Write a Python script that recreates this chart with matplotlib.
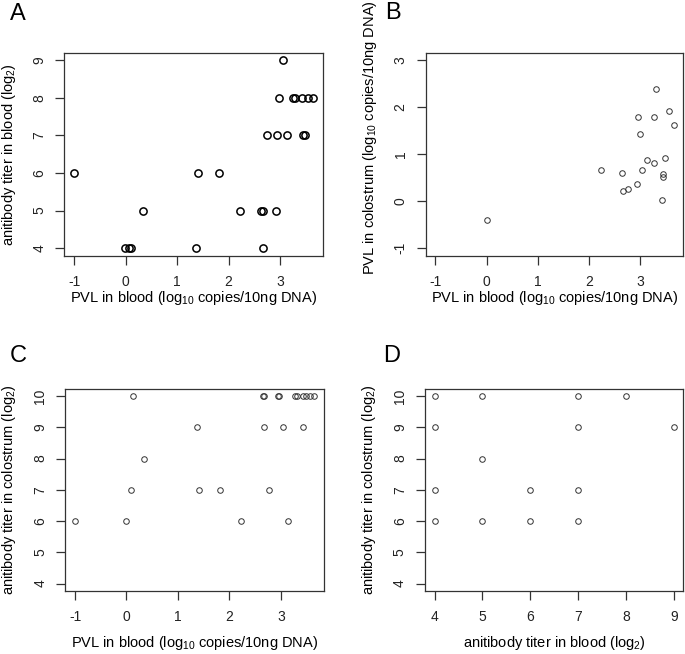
import matplotlib
matplotlib.use('Agg')
import matplotlib.pyplot as plt

plt.rcParams['font.family'] = ['Liberation Sans', 'DejaVu Sans']
plt.rcParams['mathtext.default'] = 'regular'

# panel A: PVL in blood vs antibody titer in blood
pvl_blood_a = [3.05,
               2.98, 3.26, 3.30, 3.43, 3.55, 3.64,
               2.75, 2.94, 3.14, 3.44, 3.48,
               -1.0, 1.40, 1.82,
               0.34, 2.23, 2.63, 2.66, 2.93,
               -0.01, 0.06, 0.10, 1.37, 2.66]
titer_blood_a = [9,
                 8, 8, 8, 8, 8, 8,
                 7, 7, 7, 7, 7,
                 6, 6, 6,
                 5, 5, 5, 5, 5,
                 4, 4, 4, 4, 4]

# panel B: PVL in blood vs PVL in colostrum
pvl_blood_b = [0.0, 2.23, 2.64, 2.66, 2.76, 2.93, 2.95, 2.99, 3.04, 3.14,
               3.27, 3.27, 3.31, 3.42, 3.44, 3.44, 3.48, 3.57, 3.65]
pvl_colostrum_b = [-0.41, 0.67, 0.61, 0.21, 0.26, 0.36, 1.79, 1.42, 0.67, 0.88,
                   0.82, 1.79, 2.39, 0.03, 0.57, 0.51, 0.92, 1.91, 1.62]

# panel C: PVL in blood vs antibody titer in colostrum
pvl_blood_c = [0.12, 2.65, 2.67, 2.94, 2.97, 3.28, 3.31, 3.44, 3.49, 3.57, 3.65,
               1.38, 2.68, 3.05, 3.44,
               0.35,
               0.08, 1.41, 1.82, 2.77,
               -1.0, 0.0, 2.23, 3.14]
titer_colostrum_c = [10, 10, 10, 10, 10, 10, 10, 10, 10, 10, 10,
                     9, 9, 9, 9,
                     8,
                     7, 7, 7, 7,
                     6, 6, 6, 6]

# panel D: antibody titer in blood vs antibody titer in colostrum
titer_blood_d = [4, 4, 4, 4, 5, 5, 5, 6, 6, 7, 7, 7, 7, 8, 9]
titer_colostrum_d = [10, 9, 7, 6, 10, 8, 6, 7, 6, 10, 9, 7, 6, 10, 9]

pvl_ticks = [-1, 0, 1, 2, 3]
pvl_col_ticks = [-1, 0, 1, 2, 3]
titer_blood_ticks = [4, 5, 6, 7, 8, 9]
titer_col_ticks = [4, 5, 6, 7, 8, 9, 10]

pvl_label = 'PVL in blood (log$_{10}$ copies/10ng DNA)'

fig = plt.figure(figsize=(6.85, 6.54), dpi=100)

axA = fig.add_axes([0.0939, 0.609, 0.378, 0.3104])
axB = fig.add_axes([0.6215, 0.609, 0.376, 0.3104])
axC = fig.add_axes([0.0953, 0.0963, 0.3777, 0.3094])
axD = fig.add_axes([0.6204, 0.0963, 0.3771, 0.3094])

axA.plot(pvl_blood_a, titer_blood_a, 'o', markerfacecolor='none', markeredgecolor='black',
         markersize=5.2, markeredgewidth=1.1)
axB.plot(pvl_blood_b, pvl_colostrum_b, 'o', markerfacecolor='none', markeredgecolor='#333333',
         markersize=4, markeredgewidth=0.7)
axC.plot(pvl_blood_c, titer_colostrum_c, 'o', markerfacecolor='none', markeredgecolor='#333333',
         markersize=4, markeredgewidth=0.7)
axD.plot(titer_blood_d, titer_colostrum_d, 'o', markerfacecolor='none', markeredgecolor='#333333',
         markersize=4, markeredgewidth=0.7)


def tick_text(ticks):
    # plain hyphen for negatives, like R does
    return [str(t) for t in ticks]


axA.set_xlim(-1.19, 3.84)
axA.set_ylim(3.8, 9.2)
axA.set_xticks(pvl_ticks, labels=tick_text(pvl_ticks))
axA.set_yticks(titer_blood_ticks, labels=tick_text(titer_blood_ticks), rotation=90, va='center')

axB.set_xlim(-1.19, 3.84)
axB.set_ylim(-1.16, 3.16)
axB.set_xticks(pvl_ticks, labels=tick_text(pvl_ticks))
axB.set_yticks(pvl_col_ticks, labels=tick_text(pvl_col_ticks), rotation=90, va='center')

axC.set_xlim(-1.19, 3.84)
axC.set_ylim(3.76, 10.24)
axC.set_xticks(pvl_ticks, labels=tick_text(pvl_ticks))
axC.set_yticks(titer_col_ticks, labels=tick_text(titer_col_ticks), rotation=90, va='center')

axD.set_xlim(3.8, 9.2)
axD.set_ylim(3.76, 10.24)
axD.set_xticks(titer_blood_ticks, labels=tick_text(titer_blood_ticks))
axD.set_yticks(titer_col_ticks, labels=tick_text(titer_col_ticks), rotation=90, va='center')

axA.set_xlabel(pvl_label, fontsize=10.5, va='center')
axA.set_ylabel('anitibody titer in blood (log$_2$)', fontsize=10.5, va='center')
axB.set_xlabel(pvl_label, fontsize=10.5, va='center')
axB.set_ylabel('PVL in colostrum (log$_{10}$ copies/10ng DNA)', fontsize=10.5, va='center')
axC.set_xlabel(pvl_label, fontsize=10.5, va='center')
axC.set_ylabel('anitibody titer in colostrum (log$_2$)', fontsize=10.5, va='center')
axD.set_xlabel('anitibody titer in blood (log$_2$)', fontsize=10.5, va='center')
axD.set_ylabel('anitibody titer in colostrum (log$_2$)', fontsize=10.5, va='center')

axA.xaxis.set_label_coords(0.5, -0.21)
axB.xaxis.set_label_coords(0.5, -0.21)
axC.xaxis.set_label_coords(0.5, -0.257)
axD.xaxis.set_label_coords(0.5, -0.257)
axA.yaxis.set_label_coords(-0.2135, 0.5)
axB.yaxis.set_label_coords(-0.216, 0.58)
axC.yaxis.set_label_coords(-0.2176, 0.5)
axD.yaxis.set_label_coords(-0.217, 0.5)

for ax in [axA, axB, axC, axD]:
    for sp in ax.spines.values():
        sp.set_color('#333333')
        sp.set_linewidth(0.9)
    ax.tick_params(axis='both', direction='out', length=6.5, width=0.9, color='#333333',
                   labelsize=10, labelcolor='#222222')
    ax.tick_params(axis='x', pad=7.5)
    ax.tick_params(axis='y', pad=6.5, labelrotation=90)

fig.text(10 / 685, 1 - 14 / 654, 'A', fontsize=17, ha='left', va='center')
fig.text(385 / 685, 1 - 13 / 654, 'B', fontsize=17, ha='left', va='center')
fig.text(10 / 685, 1 - 356 / 654, 'C', fontsize=17, ha='left', va='center')
fig.text(383 / 685, 1 - 356 / 654, 'D', fontsize=17, ha='left', va='center')

fig.savefig('out.png', dpi=100)
